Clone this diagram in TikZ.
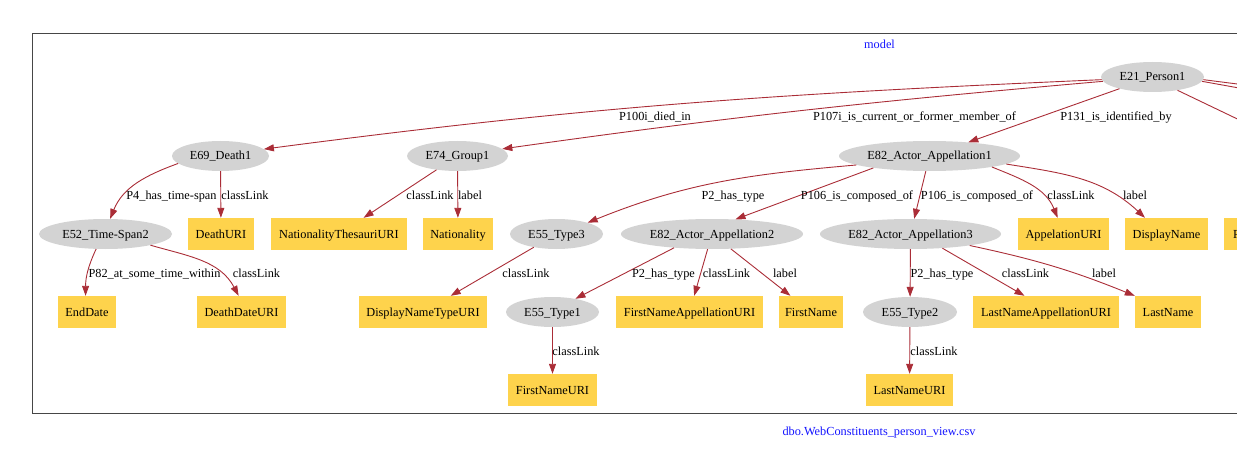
\documentclass[tikz,border=0pt]{standalone}
\usepackage{fontspec}
\setmainfont{Liberation Serif}
\usetikzlibrary{shapes.geometric,arrows.meta}
\definecolor{edgec}{RGB}{170,45,55}
\definecolor{ellc}{RGB}{211,211,211}
\definecolor{rectc}{RGB}{254,211,76}
\definecolor{boxc}{RGB}{70,70,70}
\definecolor{titc}{RGB}{20,20,255}
\begin{document}
\begin{tikzpicture}[x=1pt,y=1pt,
  font=\fontsize{12.3}{14}\selectfont,
  cls/.style={ellipse, fill=ellc, inner sep=0pt, minimum height=30pt, text height=10pt, text depth=2pt},
  lit/.style={rectangle, fill=rectc, inner xsep=2pt, inner ysep=0pt, minimum height=32pt, text height=10pt, text depth=2pt},
  elab/.style={inner sep=0pt, text height=10.5pt, text depth=1.5pt},
  titl/.style={inner sep=0pt, text=titc, text height=10.5pt, text depth=1.5pt},
  arc/.style={draw=edgec, line width=0.9pt, -{Triangle[length=10pt,width=7pt]}},
  ln/.style={draw=edgec, line width=0.9pt},
]
\useasboundingbox (0,0) rectangle (1237,456);
\clip (0,0) rectangle (1237,456);
\draw[boxc, line width=1pt] (32,422) rectangle (1300,43);
\node[titl] (model) at (879.5,412) {model};
\node[titl] (src) at (879,25) {dbo.WebConstituents\_person\_view.csv};

% row 1
\node[cls, minimum width=103pt] (E21) at (1152.5,379) {E21\_Person1};
% row 2
\node[cls, minimum width=97pt] (E69) at (220.5,300) {E69\_Death1};
\node[cls, minimum width=101pt] (E74) at (457.5,300) {E74\_Group1};
\node[cls, minimum width=181pt] (E82a) at (929.5,300) {E82\_Actor\_Appellation1};
% row 3
\node[cls, minimum width=133pt] (E52) at (105.5,222) {E52\_Time-Span2};
\node[lit, minimum width=66pt] (DeathURI) at (221,222) {DeathURI};
\node[lit, minimum width=136pt] (NatThes) at (339,222) {NationalityThesauriURI};
\node[lit, minimum width=70pt] (Nationality) at (458,222) {Nationality};
\node[cls, minimum width=93pt] (E55c) at (556.5,222) {E55\_Type3};
\node[cls, minimum width=182pt] (E82b) at (712,222) {E82\_Actor\_Appellation2};
\node[cls, minimum width=181pt] (E82c) at (910.5,222) {E82\_Actor\_Appellation3};
\node[lit, minimum width=91pt] (AppURI) at (1063.5,222) {AppelationURI};
\node[lit, minimum width=83pt] (DispName) at (1166.5,222) {DisplayName};
\node[lit, anchor=west, minimum width=90pt, text width=80pt, inner xsep=9pt, align=left] (Partial) at (1224,222) {P};
% row 4
\node[lit, minimum width=58pt] (EndDate) at (87,144) {EndDate};
\node[lit, minimum width=89pt] (DeathDate) at (241.5,144) {DeathDateURI};
\node[lit, minimum width=128pt] (DNTypeURI) at (423,144) {DisplayNameTypeURI};
\node[cls, minimum width=93pt] (E55a) at (552.5,144) {E55\_Type1};
\node[lit, minimum width=147pt] (FNAppURI) at (689.5,144) {FirstNameAppellationURI};
\node[lit, minimum width=64pt] (FirstName) at (811,144) {FirstName};
\node[cls, minimum width=94pt] (E55b) at (910,144) {E55\_Type2};
\node[lit, minimum width=146pt] (LNAppURI) at (1046,144) {LastNameAppellationURI};
\node[lit, minimum width=66pt] (LastName) at (1168,144) {LastName};
% row 5
\node[lit, minimum width=89pt] (FNURI) at (552.5,66) {FirstNameURI};
\node[lit, minimum width=87pt] (LNURI) at (909.5,66) {LastNameURI};

% off-picture ends
\coordinate (r1) at (1300,364);
\coordinate (r2) at (1300,357);
\coordinate (r3) at (1300,307);

% edges
\draw[arc] (E21.183) to[out=182.5,in=7.5] (E69.9);
\draw[arc] (E21.185) to[out=185,in=8] (E74.9);
\draw[arc] (E21) -- (E82a);
\draw[ln] (E21.-3) -- (r1);
\draw[ln] (E21.-5) -- (r2);
\draw[ln] (E21.-28) -- (r3);

\draw[arc] (E69.190) to[out=200,in=68] (E52.73);
\draw[arc] (E69) -- (DeathURI);
\draw[arc] (E74) -- (NatThes);
\draw[arc] (E74) -- (Nationality);
\draw[arc] (E82a.187) to[out=185,in=22] (E55c.20);
\draw[arc] (E82a.192) -- (E82b.32);
\draw[arc] (E82a) -- (E82c);
\draw[arc] (E82a.-10) to[out=-22,in=112] (AppURI.110);
\draw[arc] (E82a.-6) to[out=-9,in=137] (DispName.143);

\draw[arc] (E52.238) to[out=245,in=90] (EndDate.95);
\draw[arc] (E52.-14) to[out=-16,in=118] (DeathDate.100);
\draw[arc] (E55c) -- (DNTypeURI);
\draw[arc] (E82b.200) -- (E55a.30);
\draw[arc] (E82b) -- (FNAppURI);
\draw[arc] (E82b) -- (FirstName);
\draw[arc] (E82c) -- (E55b);
\draw[arc] (E82c.-24) -- (LNAppURI.143);
\draw[arc] (E82c.-11) to[out=-12,in=158] (LastName.154);
\draw[arc] (E55a) -- (FNURI);
\draw[arc] (E55b) -- (LNURI);

% edge labels
\node[elab] (l1) at (655,340) {P100i\_died\_in};
\node[elab] (l2) at (914.5,340) {P107i\_is\_current\_or\_former\_member\_of};
\node[elab] (l3) at (1116,340) {P131\_is\_identified\_by};
\node[elab] (l4) at (171.5,261) {P4\_has\_time-span};
\node[elab] (l5) at (245,261) {classLink};
\node[elab] (l6) at (430,261) {classLink};
\node[elab] (l7) at (470,261) {label};
\node[elab] (l8) at (733,261) {P2\_has\_type};
\node[elab] (l9) at (857,261) {P106\_is\_composed\_of};
\node[elab] (l10) at (977,261) {P106\_is\_composed\_of};
\node[elab] (l11) at (1071,261) {classLink};
\node[elab] (l12) at (1135,261) {label};
\node[elab] (l13) at (154.5,183) {P82\_at\_some\_time\_within};
\node[elab] (l14) at (256.5,183) {classLink};
\node[elab] (l15) at (526,183) {classLink};
\node[elab] (l16) at (663.5,183) {P2\_has\_type};
\node[elab] (l17) at (726.5,183) {classLink};
\node[elab] (l18) at (785,183) {label};
\node[elab] (l19) at (942,183) {P2\_has\_type};
\node[elab] (l20) at (1025.5,183) {classLink};
\node[elab] (l21) at (1104,183) {label};
\node[elab] (l22) at (576,105) {classLink};
\node[elab] (l23) at (934,105) {classLink};
\end{tikzpicture}
\end{document}
